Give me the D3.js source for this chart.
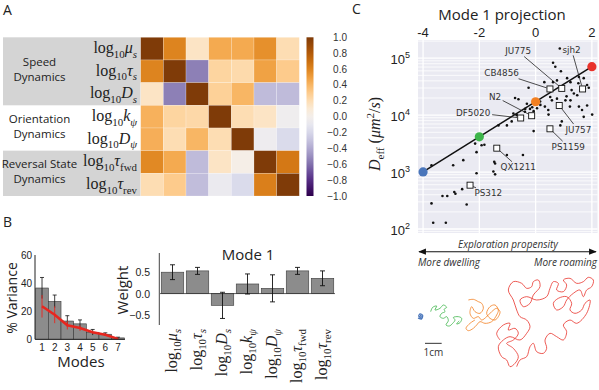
<!DOCTYPE html>
<html>
<head>
<meta charset="utf-8">
<script src="https://cdn.jsdelivr.net/npm/d3@7"></script>
<style>
  body { margin: 0; background: #fff; }
  svg { display: block; }
</style>
</head>
<body>
<div id="chart"></div>
<script>
// ---------- data ----------
const paramSymbols = ['μ', 'τ', 'D', 'k', 'D', 'τ', 'τ'];
const paramSubs = ['s', 's', 's', 'ψ', 'ψ', 'fwd', 'rev'];
const groupNames = [['Speed', 'Dynamics'], ['Orientation', 'Dynamics'], ['Reversal State', 'Dynamics']];
const groupStart = [0, 3, 5];
const groupSize = [3, 2, 2];

const corr = [
  [1.00, 0.60, 0.15, 0.45, 0.45, 0.55, 0.20],
  [0.60, 1.00, -0.55, 0.25, 0.22, 0.48, 0.30],
  [0.15, -0.55, 1.00, 0.27, 0.40, -0.33, -0.33],
  [0.42, 0.25, 0.23, 1.00, 0.20, 0.15, -0.04],
  [0.43, 0.20, 0.40, 0.20, 1.00, -0.05, -0.18],
  [0.58, 0.45, -0.33, 0.15, 0.02, 1.00, 0.65],
  [0.20, 0.30, -0.32, -0.07, -0.18, 0.62, 1.00]
];
const cbarTicks = [1.0, 0.8, 0.6, 0.4, 0.2, 0.0, -0.2, -0.4, -0.6, -0.8, -1.0];

const modes = [1, 2, 3, 4, 5, 6, 7];
const modeVar = [36.5, 27, 13, 11, 5, 3.6, 1];
const modeVarErr = [7.5, 4.5, 3.8, 2.8, 2, 1, 0.5];
const shuffleVar = [23.5, 17.5, 10, 8, 5, 3.2, 0.3];
const shuffleErr = [8, 6, 3, 2, 1, 0.8, 0.3];
const varTicks = [0, 20, 40, 60];

const mode1Weight = [0.49, 0.52, -0.27, 0.22, 0.12, 0.52, 0.35];
const mode1Err = [0.17, 0.08, 0.30, 0.23, 0.31, 0.08, 0.17];
const weightTicks = [0.5, 0.0, -0.5];

// panel C: mode 1 projection vs log10 Deff
const dotProj = [0.86, 0.62, 0.70, 0.90, 0.31, 0.62, 0.76, 1.12, 1.24, 1.54, 1.71, 1.83, 1.89, 1.36, 1.48, 1.24,
  0.52, 0.58, 0.76, 1.06, -0.25, -0.73, -0.61, -0.31, 0.17, 0.05, -0.07, -0.37, -0.79, -0.67, 0.46, 1.54, 1.65,
  1.83, 1.71, 2.01, 0.88, -1.32, -1.02, -0.85, -0.07, -2.15, -1.92, -1.82, -2.10, -2.57, -2.93, -3.70, -2.10,
  -1.44, -1.47, -1.02, -0.45, -1.50, -1.44, -2.61, -2.89, -2.85, -3.31, -3.14, -3.70, -2.45, -3.64, -3.19,
  1.52, 1.75, 1.28, 1.10, 0.33, 0.45, 0.16, -0.12, -0.38, 1.22, 0.93, -0.20];
const dotLogD = [5.17, 4.92, 4.85, 4.77, 4.58, 4.58, 4.61, 4.65, 4.58, 4.67, 4.65, 4.53, 4.48, 4.38, 4.35, 4.26,
  4.32, 4.26, 4.29, 4.26, 4.48, 4.30, 4.28, 4.20, 4.18, 4.12, 4.07, 4.11, 4.03, 4.00, 4.01, 4.15, 4.09,
  4.17, 3.97, 4.01, 3.82, 3.82, 3.82, 3.89, 3.72, 3.50, 3.47, 3.48, 3.35, 3.21, 3.12, 3.12, 2.98,
  3.15, 3.18, 3.30, 3.30, 3.01, 2.96, 2.70, 2.65, 2.62, 2.58, 2.58, 2.45, 2.43, 2.11, 2.11,
  4.56, 4.47, 4.44, 4.33, 4.15, 4.09, 4.24, 4.14, 4.06, 4.15, 3.89, 4.11];

const strainNames = ['JU775', 'sjh2', 'CB4856', 'N2', 'DF5020', 'JU757', 'PS1159', 'QX1211', 'PS312'];
const strainProj = [0.93, 1.67, 0.51, -0.14, -0.53, 0.84, 0.51, -1.38, -2.33];
const strainLogD = [4.47, 4.46, 4.46, 3.99, 3.95, 4.17, 3.76, 3.42, 2.77];
const strainLabelProj = [-0.62, 1.28, -1.21, -1.44, -2.22, 1.52, 1.16, -0.62, -1.68];
const strainLabelLogD = [5.13, 5.15, 4.74, 4.33, 4.05, 3.75, 3.45, 3.09, 2.63];

const fitSlope = 0.308;
const fitIntercept = 4.235;
const repProj = [-4, -2, 0, 2];
const repColors = ['#4a76bb', '#3db54a', '#f28022', '#e8322b'];
const projTicks = [-4, -2, 0, 2];
const logDTicks = [2, 3, 4, 5];

// example tracks (mm)
const trackBlue = [[72, 69], [73.5, 70.5], [71, 70.8], [72.8, 71.5], [73.6, 69.2], [72, 68.3], [71.2, 69.8], [72.4, 70]];
const trackGreen = [[78.4, 67], [79.6, 64.4], [82, 63.6], [81, 66], [84, 65], [86, 63], [88, 64.4], [86.5, 65.5],
  [87, 67], [85, 68], [84, 70], [86, 71], [88, 70], [89, 72.4], [87.6, 75], [89.6, 75.6], [91.6, 74], [93, 72],
  [92, 70.5], [95, 70], [97, 71], [96, 73.6], [94, 74.4], [95.5, 72.5]];
const trackOrange = [[101, 60], [104, 59.6], [107, 61], [109, 62], [110, 65], [108, 68], [105, 67], [103, 64],
  [102, 68], [104, 71], [107, 70], [109, 72], [112, 70], [115, 67], [118, 65], [120, 67], [119, 70], [117, 72],
  [114, 71], [112, 68], [114, 64], [117, 63], [119, 66], [118, 69], [115, 73], [111, 74], [108, 73], [106, 75],
  [104, 77], [101, 78.4], [99.6, 77], [102, 74], [105, 72]];
const trackRed = [[120, 84], [118, 80], [122, 75], [126, 74], [125, 78], [129, 77], [131, 80], [128, 84], [124, 86],
  [128, 89], [131, 94], [129, 98], [126, 100], [124, 96], [121, 94], [119, 88], [122, 84], [126, 82], [132, 84],
  [136, 80], [138, 76], [136, 72], [132, 70], [130, 66], [128, 60], [125, 54], [128, 49], [133, 50], [136, 53],
  [139, 52], [140, 49], [143, 48], [144, 52], [140, 57], [138, 62], [134, 64], [132, 60], [136, 58], [142, 60],
  [148, 58], [150, 53], [152, 49], [155, 50], [154, 54], [158, 55], [160, 51], [158, 48], [162, 47], [166, 50],
  [170, 49], [173, 46.4], [176, 48], [175, 52], [172, 54], [170, 58], [168, 54], [164, 56], [160, 60], [158, 64],
  [154, 66], [152, 62], [155, 59], [160, 58], [163, 62], [162, 66], [165, 68], [169, 66], [171, 62], [174, 60],
  [172, 68], [166, 74], [162, 72], [158, 75], [160, 79], [158, 84], [154, 82], [150, 80], [147, 84], [148, 89],
  [146, 92], [142, 91], [140, 86], [138, 88], [136, 94], [132, 96], [130, 100]];

// ---------- setup ----------
const W = 599, H = 390;
const svg = d3.select('#chart').append('svg')
  .attr('width', W).attr('height', H)
  .style('font-family', "'Open Sans', sans-serif");
svg.append('rect').attr('width', W).attr('height', H).attr('fill', '#fff');

const mathFont = "'Liberation Serif', 'DejaVu Serif', serif";
const tickFont = "'Liberation Sans', Arial, sans-serif";

// log10 X_sub label made of tspans
function mathLabel(text, i, size) {
  text.style('font-family', mathFont).attr('font-size', size);
  text.append('tspan').text('log');
  text.append('tspan').attr('font-size', size * 0.68).attr('dy', size * 0.28).text('10');
  text.append('tspan').attr('font-style', 'italic').attr('dy', -size * 0.28).text(paramSymbols[i]);
  const sub = paramSubs[i];
  text.append('tspan').attr('font-size', size * 0.68).attr('dy', size * 0.28)
    .attr('font-style', sub.length > 1 ? 'normal' : 'italic').text(sub);
}

function panelLabel(x, y, t) {
  svg.append('text').attr('x', x).attr('y', y).attr('font-size', 14).attr('fill', '#222').text(t);
}
panelLabel(3, 15, 'A');
panelLabel(3, 227, 'B');
panelLabel(352, 14, 'C');

// ---------- panel A ----------
const hmX = d3.scaleBand().domain(d3.range(7)).range([140.7, 299.3]);
const hmY = d3.scaleBand().domain(d3.range(7)).range([37.3, 196]);
// PuOr: t=0 brown/orange, t=1 purple  -> +1 brown, -1 purple
const color = d3.scaleSequential(d3.interpolatePuOr).domain([-1, 1]);
const gA = svg.append('g');

groupNames.forEach((names, gi) => {
  const y0 = hmY(groupStart[gi]);
  const h = hmY.bandwidth() * groupSize[gi];
  if (gi !== 1) {
    gA.append('rect').attr('x', 3).attr('y', y0).attr('width', 137.7).attr('height', h)
      .attr('fill', '#d4d4d4');
  }
  names.forEach((n, li) => {
    gA.append('text')
      .attr('x', 39.5).attr('y', y0 + h / 2 + (li - 0.5) * 15 + 2.5)
      .attr('text-anchor', 'middle').attr('font-size', 11.5).attr('fill', '#222')
      .text(n);
  });
});

paramSymbols.forEach((s, i) => {
  const t = gA.append('text')
    .attr('x', 137).attr('y', hmY(i) + hmY.bandwidth() / 2 + 4.5)
    .attr('text-anchor', 'end').attr('fill', '#222');
  mathLabel(t, i, 16);
});

const cells = [];
corr.forEach((row, r) => row.forEach((v, c) => cells.push({ r, c, v })));
gA.selectAll('rect.cell').data(cells).join('rect')
  .attr('class', 'cell')
  .attr('x', d => hmX(d.c)).attr('y', d => hmY(d.r))
  .attr('width', hmX.bandwidth()).attr('height', hmY.bandwidth())
  .attr('fill', d => color(d.v))
  .attr('stroke', 'rgba(255,255,255,0.35)').attr('stroke-width', 0.6);

// colorbar
const cbY = d3.scaleLinear().domain([1, -1]).range([37.3, 196]);
const defs = svg.append('defs');
const grad = defs.append('linearGradient').attr('id', 'cbgrad')
  .attr('x1', 0).attr('y1', 0).attr('x2', 0).attr('y2', 1);
d3.range(0, 1.0001, 0.05).forEach(t => {
  grad.append('stop').attr('offset', t).attr('stop-color', color(1 - 2 * t));
});
gA.append('rect').attr('x', 306.5).attr('y', cbY(1)).attr('width', 7)
  .attr('height', cbY(-1) - cbY(1)).attr('fill', 'url(#cbgrad)');
gA.selectAll('text.cbt').data(cbarTicks).join('text')
  .attr('class', 'cbt')
  .attr('x', 347).attr('y', d => cbY(d) + 3.5)
  .attr('text-anchor', 'end').attr('font-size', 10).attr('fill', '#333')
  .style('font-family', tickFont)
  .text(d => d3.format('.1f')(d).replace('-', '−'));

// ---------- panel B left ----------
const bx = d3.scaleBand().domain(modes).range([35.7, 124.3]);
const by = d3.scaleLinear().domain([0, 60]).range([339.3, 255]);
const gB = svg.append('g');
gB.selectAll('rect.vbar').data(modes).join('rect')
  .attr('class', 'vbar')
  .attr('x', d => bx(d)).attr('y', (d, i) => by(modeVar[i]))
  .attr('width', bx.bandwidth()).attr('height', (d, i) => by(0) - by(modeVar[i]))
  .attr('fill', '#8c8c8c').attr('stroke', '#3a3a3a').attr('stroke-width', 0.6);
gB.selectAll('line.verr').data(modes).join('line')
  .attr('class', 'verr')
  .attr('x1', d => bx(d) + bx.bandwidth() / 2).attr('x2', d => bx(d) + bx.bandwidth() / 2)
  .attr('y1', (d, i) => by(modeVar[i] + modeVarErr[i])).attr('y2', (d, i) => by(Math.max(0, modeVar[i] - modeVarErr[i])))
  .attr('stroke', '#111').attr('stroke-width', 0.8);
gB.selectAll('line.vcap').data(modes).join('line')
  .attr('class', 'vcap')
  .attr('x1', d => bx(d) + bx.bandwidth() / 2 - 2).attr('x2', d => bx(d) + bx.bandwidth() / 2 + 2)
  .attr('y1', (d, i) => by(modeVar[i] + modeVarErr[i])).attr('y2', (d, i) => by(modeVar[i] + modeVarErr[i]))
  .attr('stroke', '#111').attr('stroke-width', 0.8);
// shuffled control
const redLine = d3.line().x((d, i) => bx(modes[i]) + bx.bandwidth() / 2).y(d => by(d));
gB.append('path').datum(shuffleVar).attr('d', redLine)
  .attr('fill', 'none').attr('stroke', '#e8261e').attr('stroke-width', 2.6);
gB.selectAll('line.rerr').data(modes).join('line')
  .attr('class', 'rerr')
  .attr('x1', d => bx(d) + bx.bandwidth() / 2).attr('x2', d => bx(d) + bx.bandwidth() / 2)
  .attr('y1', (d, i) => by(shuffleVar[i] + shuffleErr[i])).attr('y2', (d, i) => by(Math.max(0, shuffleVar[i] - shuffleErr[i])))
  .attr('stroke', '#e8261e').attr('stroke-width', 0.9);
// axes
gB.append('line').attr('x1', 35).attr('x2', 35).attr('y1', by(60)).attr('y2', by(0))
  .attr('stroke', '#222').attr('stroke-width', 1);
gB.append('line').attr('x1', 35).attr('x2', 125).attr('y1', by(0)).attr('y2', by(0))
  .attr('stroke', '#222').attr('stroke-width', 1);
gB.selectAll('text.vt').data(varTicks).join('text')
  .attr('class', 'vt').attr('x', 32).attr('y', d => by(d) + 3.5)
  .attr('text-anchor', 'end').attr('font-size', 10).attr('fill', '#222')
  .style('font-family', tickFont).text(d => d);
gB.selectAll('text.mt').data(modes).join('text')
  .attr('class', 'mt').attr('x', d => bx(d) + bx.bandwidth() / 2).attr('y', 350.5)
  .attr('text-anchor', 'middle').attr('font-size', 10).attr('fill', '#222')
  .style('font-family', tickFont).text(d => d);
gB.append('text').attr('transform', 'translate(17,298) rotate(-90)')
  .attr('text-anchor', 'middle').attr('font-size', 14).attr('fill', '#222').text('% Variance');
gB.append('text').attr('x', 81).attr('y', 367)
  .attr('text-anchor', 'middle').attr('font-size', 15).attr('fill', '#222').text('Modes');

// ---------- panel B right ----------
const wx = d3.scaleBand().domain(d3.range(7)).range([160, 335]).paddingInner(0.1).paddingOuter(0.05);
const wy = d3.scaleLinear().domain([-0.72, 0.93]).range([325, 253]);
const gW = svg.append('g');
gW.selectAll('rect.wbar').data(mode1Weight).join('rect')
  .attr('class', 'wbar')
  .attr('x', (d, i) => wx(i)).attr('y', d => wy(Math.max(0, d)))
  .attr('width', wx.bandwidth()).attr('height', d => Math.abs(wy(d) - wy(0)))
  .attr('fill', '#8c8c8c').attr('stroke', '#3a3a3a').attr('stroke-width', 0.6);
gW.append('line').attr('x1', 160).attr('x2', 335).attr('y1', wy(0)).attr('y2', wy(0))
  .attr('stroke', '#333').attr('stroke-width', 0.8);
gW.selectAll('line.werr').data(mode1Weight).join('line')
  .attr('class', 'werr')
  .attr('x1', (d, i) => wx(i) + wx.bandwidth() / 2).attr('x2', (d, i) => wx(i) + wx.bandwidth() / 2)
  .attr('y1', (d, i) => wy(d + mode1Err[i])).attr('y2', (d, i) => wy(d - mode1Err[i]))
  .attr('stroke', '#111').attr('stroke-width', 0.9);
['top', 'bot'].forEach(k => {
  gW.selectAll('line.wcap' + k).data(mode1Weight).join('line')
    .attr('class', 'wcap' + k)
    .attr('x1', (d, i) => wx(i) + wx.bandwidth() / 2 - 2.5).attr('x2', (d, i) => wx(i) + wx.bandwidth() / 2 + 2.5)
    .attr('y1', (d, i) => wy(k === 'top' ? d + mode1Err[i] : d - mode1Err[i]))
    .attr('y2', (d, i) => wy(k === 'top' ? d + mode1Err[i] : d - mode1Err[i]))
    .attr('stroke', '#111').attr('stroke-width', 0.9);
});
gW.append('line').attr('x1', 159.3).attr('x2', 159.3).attr('y1', 253).attr('y2', 325)
  .attr('stroke', '#444').attr('stroke-width', 1);
gW.selectAll('text.wt').data(weightTicks).join('text')
  .attr('class', 'wt').attr('x', 150).attr('y', d => wy(d) + 4)
  .attr('text-anchor', 'end').attr('font-size', 10.5).attr('fill', '#222')
  .style('font-family', tickFont).text(d => d3.format('.1f')(d));
gW.append('text').attr('transform', 'translate(128,290) rotate(-90)')
  .attr('text-anchor', 'middle').attr('font-size', 15).attr('fill', '#222').text('Weight');
gW.append('text').attr('x', 248).attr('y', 260)
  .attr('text-anchor', 'middle').attr('font-size', 15).attr('fill', '#222').text('Mode 1');
paramSymbols.forEach((s, i) => {
  const t = gW.append('text')
    .attr('transform', `translate(${wx(i) + wx.bandwidth() / 2 + 4.5},329) rotate(-90)`)
    .attr('text-anchor', 'end').attr('fill', '#222');
  mathLabel(t, i, 16);
});

// ---------- panel C ----------
const cx = d3.scaleLinear().domain([-4.18, 2.2]).range([418, 597.5]);
const cy = d3.scaleLog().domain([Math.pow(10, 1.93), Math.pow(10, 5.32)]).range([233, 40]);
const gC = svg.append('g');
gC.append('rect').attr('x', 418).attr('y', 40).attr('width', 179.5).attr('height', 193).attr('fill', '#eaeaf2');
const yGrid = [];
for (let k = 1; k <= 5; k++) {
  for (let m = 1; m <= 9; m++) {
    const v = m * Math.pow(10, k);
    if (v >= cy.domain()[0] && v <= cy.domain()[1]) yGrid.push({ v, major: m === 1 });
  }
}
gC.selectAll('line.yg').data(yGrid).join('line')
  .attr('class', 'yg').attr('x1', 418).attr('x2', 597.5)
  .attr('y1', d => cy(d.v)).attr('y2', d => cy(d.v))
  .attr('stroke', '#fff').attr('stroke-width', d => d.major ? 1.3 : 0.8);
gC.selectAll('line.xg').data(projTicks).join('line')
  .attr('class', 'xg').attr('x1', d => cx(d)).attr('x2', d => cx(d)).attr('y1', 40).attr('y2', 233)
  .attr('stroke', '#fff').attr('stroke-width', 1.3);

gC.selectAll('text.xt').data(projTicks).join('text')
  .attr('class', 'xt').attr('x', d => cx(d)).attr('y', 37)
  .attr('text-anchor', 'middle').attr('font-size', 13).attr('fill', '#222')
  .style('font-family', tickFont).text(d => d);
gC.append('text').attr('x', 502).attr('y', 20).attr('text-anchor', 'middle')
  .attr('font-size', 15).attr('fill', '#222').text('Mode 1 projection');

logDTicks.forEach(e => {
  const t = gC.append('text').attr('x', 410).attr('y', cy(Math.pow(10, e)) + 6)
    .attr('text-anchor', 'end').attr('font-size', 13).attr('fill', '#222')
    .style('font-family', tickFont);
  t.append('tspan').text('10');
  t.append('tspan').attr('font-size', 9).attr('dy', -6).text(e);
});
const yl = gC.append('text').attr('transform', 'translate(380,134) rotate(-90)')
  .attr('text-anchor', 'middle').attr('font-size', 16).attr('fill', '#222')
  .style('font-family', mathFont);
yl.append('tspan').attr('font-style', 'italic').text('D');
yl.append('tspan').attr('font-size', 11).attr('dy', 4).text('eff');
yl.append('tspan').attr('dy', -4).text(' (');
yl.append('tspan').attr('font-style', 'italic').text('μm');
yl.append('tspan').attr('font-size', 11).attr('dy', -6).text('2');
yl.append('tspan').attr('dy', 6).text('/');
yl.append('tspan').attr('font-style', 'italic').text('s');
yl.append('tspan').text(')');

// fit line
const fitY = p => Math.pow(10, fitIntercept + fitSlope * p);
gC.append('line').attr('x1', cx(repProj[0])).attr('y1', cy(fitY(repProj[0])))
  .attr('x2', cx(repProj[3])).attr('y2', cy(fitY(repProj[3])))
  .attr('stroke', '#111').attr('stroke-width', 1.5);

gC.selectAll('circle.dot').data(dotProj).join('circle')
  .attr('class', 'dot').attr('cx', d => cx(d)).attr('cy', (d, i) => cy(Math.pow(10, dotLogD[i])))
  .attr('r', 1.3).attr('fill', '#111');

// strain labels with leader lines
const strainG = gC.selectAll('g.strain').data(strainNames).join('g').attr('class', 'strain');
strainG.each(function (name, i) {
  const g = d3.select(this);
  const sx = cx(strainProj[i]), sy = cy(Math.pow(10, strainLogD[i]));
  const tx = cx(strainLabelProj[i]), ty = cy(Math.pow(10, strainLabelLogD[i]));
  const txt = g.append('text').attr('x', tx).attr('y', ty + 3.2)
    .attr('text-anchor', 'middle').attr('font-size', 8.8).attr('fill', '#333')
    .style('font-family', "'DejaVu Sans', sans-serif").text(name);
  const bb = txt.node().getBBox();
  const hw = bb.width / 2 + 1.5, hh = bb.height / 2 + 0.5;
  const cxm = bb.x + bb.width / 2, cym = bb.y + bb.height / 2;
  const dx = sx - cxm, dy = sy - cym;
  const s = Math.min(hw / Math.abs(dx || 1e-6), hh / Math.abs(dy || 1e-6));
  const x0 = cxm + dx * s, y0 = cym + dy * s;
  const len = Math.hypot(sx - x0, sy - y0);
  const x1 = sx - (sx - x0) / len * 3.5, y1 = sy - (sy - y0) / len * 3.5;
  g.insert('line', 'text').attr('x1', x0).attr('y1', y0).attr('x2', x1).attr('y2', y1)
    .attr('stroke', '#222').attr('stroke-width', 0.8);
  g.append('rect').attr('x', sx - 3).attr('y', sy - 3).attr('width', 6).attr('height', 6)
    .attr('fill', '#fff').attr('stroke', '#111').attr('stroke-width', 0.9);
});

gC.selectAll('circle.rep').data(repProj).join('circle')
  .attr('class', 'rep').attr('cx', d => cx(d)).attr('cy', d => cy(fitY(d)))
  .attr('r', 4.6).attr('fill', (d, i) => repColors[i]);

// exploration arrow
defs.append('marker').attr('id', 'ahead').attr('viewBox', '0 0 10 10')
  .attr('refX', 9).attr('refY', 5).attr('markerWidth', 7).attr('markerHeight', 7)
  .attr('orient', 'auto-start-reverse')
  .append('path').attr('d', 'M0,1 L10,5 L0,9 Z').attr('fill', '#111');
gC.append('line').attr('x1', 419).attr('x2', 596).attr('y1', 251.7).attr('y2', 251.7)
  .attr('stroke', '#111').attr('stroke-width', 1.1)
  .attr('marker-start', 'url(#ahead)').attr('marker-end', 'url(#ahead)');
gC.append('text').attr('x', 508).attr('y', 247.5).attr('text-anchor', 'middle')
  .attr('font-size', 10).attr('font-style', 'italic').attr('fill', '#333').text('Exploration propensity');
gC.append('text').attr('x', 418).attr('y', 266).attr('text-anchor', 'start')
  .attr('font-size', 10).attr('font-style', 'italic').attr('fill', '#333').text('More dwelling');
gC.append('text').attr('x', 597).attr('y', 266).attr('text-anchor', 'end')
  .attr('font-size', 10).attr('font-style', 'italic').attr('fill', '#333').text('More roaming');

// tracks
const trX = d3.scaleLinear().domain([0, 100]).range([300, 300 + 500 / 3]);
const trY = d3.scaleLinear().domain([0, 100]).range([200, 200 + 500 / 3]);
const trLine = d3.line().x(d => trX(d[0])).y(d => trY(d[1])).curve(d3.curveCatmullRom.alpha(0.5));
[trackBlue, trackGreen, trackOrange, trackRed].forEach((tr, i) => {
  gC.append('path').datum(tr).attr('d', trLine)
    .attr('fill', 'none').attr('stroke', repColors[i]).attr('stroke-width', i === 0 ? 1.2 : 0.8);
});
gC.append('line').attr('x1', trX(75)).attr('x2', trX(85)).attr('y1', trY(86)).attr('y2', trY(86))
  .attr('stroke', '#333').attr('stroke-width', 1);
gC.append('text').attr('x', trX(80)).attr('y', trY(93.5)).attr('text-anchor', 'middle')
  .attr('font-size', 10).attr('fill', '#333').text('1cm');
</script>
</body>
</html>
